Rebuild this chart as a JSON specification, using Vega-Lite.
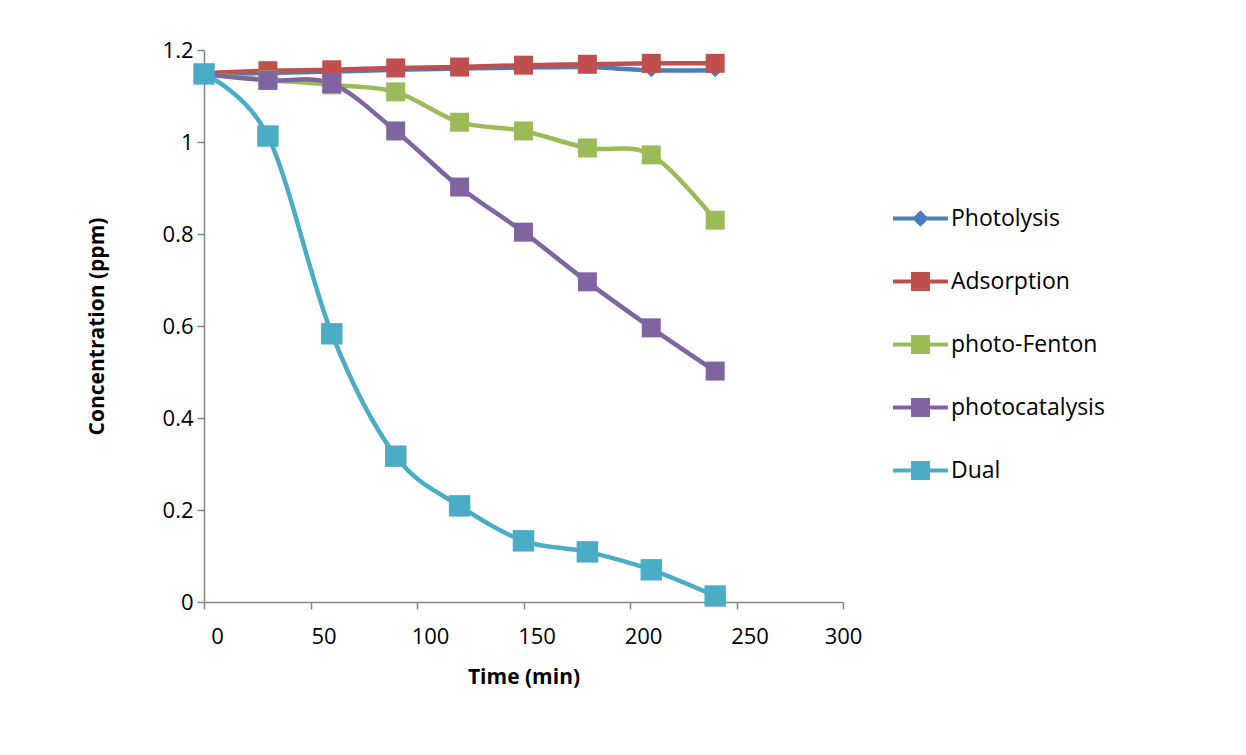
{
  "$schema": "https://vega.github.io/schema/vega-lite/v6.json",
  "autosize": {"type": "none"},
  "padding": {"left": 204, "top": 50, "right": 403, "bottom": 153},
  "width": 639,
  "height": 552,
  "background": "white",
  "config": {
    "view": {"stroke": null},
    "font": "Open Sans",
    "axis": {
      "grid": false,
      "domainColor": "#868686",
      "domainWidth": 1.5,
      "tickColor": "#868686",
      "tickWidth": 1.5,
      "tickSize": 7,
      "labelFont": "Open Sans",
      "labelFontSize": 22,
      "labelColor": "#000000",
      "titleFont": "Open Sans",
      "titleFontSize": 21,
      "titleFontWeight": "bold",
      "titleColor": "#000000"
    }
  },
  "data": {
    "values": [
      {"series": "Photolysis", "time": 0, "conc": 1.148},
      {"series": "Photolysis", "time": 30, "conc": 1.150},
      {"series": "Photolysis", "time": 60, "conc": 1.153},
      {"series": "Photolysis", "time": 90, "conc": 1.157},
      {"series": "Photolysis", "time": 120, "conc": 1.160},
      {"series": "Photolysis", "time": 150, "conc": 1.162},
      {"series": "Photolysis", "time": 180, "conc": 1.163},
      {"series": "Photolysis", "time": 210, "conc": 1.156},
      {"series": "Photolysis", "time": 240, "conc": 1.156},
      {"series": "Adsorption", "time": 0, "conc": 1.149},
      {"series": "Adsorption", "time": 30, "conc": 1.155},
      {"series": "Adsorption", "time": 60, "conc": 1.157},
      {"series": "Adsorption", "time": 90, "conc": 1.161},
      {"series": "Adsorption", "time": 120, "conc": 1.163},
      {"series": "Adsorption", "time": 150, "conc": 1.167},
      {"series": "Adsorption", "time": 180, "conc": 1.169},
      {"series": "Adsorption", "time": 210, "conc": 1.171},
      {"series": "Adsorption", "time": 240, "conc": 1.171},
      {"series": "photo-Fenton", "time": 0, "conc": 1.148},
      {"series": "photo-Fenton", "time": 30, "conc": 1.135},
      {"series": "photo-Fenton", "time": 60, "conc": 1.124},
      {"series": "photo-Fenton", "time": 90, "conc": 1.109},
      {"series": "photo-Fenton", "time": 120, "conc": 1.043},
      {"series": "photo-Fenton", "time": 150, "conc": 1.024},
      {"series": "photo-Fenton", "time": 180, "conc": 0.987},
      {"series": "photo-Fenton", "time": 210, "conc": 0.972},
      {"series": "photo-Fenton", "time": 240, "conc": 0.830},
      {"series": "photocatalysis", "time": 0, "conc": 1.148},
      {"series": "photocatalysis", "time": 30, "conc": 1.134},
      {"series": "photocatalysis", "time": 60, "conc": 1.127},
      {"series": "photocatalysis", "time": 90, "conc": 1.024},
      {"series": "photocatalysis", "time": 120, "conc": 0.902},
      {"series": "photocatalysis", "time": 150, "conc": 0.804},
      {"series": "photocatalysis", "time": 180, "conc": 0.696},
      {"series": "photocatalysis", "time": 210, "conc": 0.596},
      {"series": "photocatalysis", "time": 240, "conc": 0.502},
      {"series": "Dual", "time": 0, "conc": 1.148},
      {"series": "Dual", "time": 30, "conc": 1.013},
      {"series": "Dual", "time": 60, "conc": 0.583},
      {"series": "Dual", "time": 90, "conc": 0.317},
      {"series": "Dual", "time": 120, "conc": 0.209},
      {"series": "Dual", "time": 150, "conc": 0.133},
      {"series": "Dual", "time": 180, "conc": 0.109},
      {"series": "Dual", "time": 210, "conc": 0.070},
      {"series": "Dual", "time": 240, "conc": 0.013}
    ]
  },
  "encoding": {
    "x": {
      "field": "time",
      "type": "quantitative",
      "scale": {"domain": [0, 300], "nice": false, "zero": false},
      "axis": {
        "title": "Time (min)",
        "values": [0, 50, 100, 150, 200, 250, 300],
        "labelPadding": 17,
        "labelFlush": false,
        "labelOffset": {"condition": {"test": "datum.value === 300", "value": 0}, "value": 13},
        "titlePadding": 19
      }
    },
    "y": {
      "field": "conc",
      "type": "quantitative",
      "scale": {"domain": [0, 1.2], "nice": false},
      "axis": {
        "title": "Concentration (ppm)",
        "values": [0, 0.2, 0.4, 0.6, 0.8, 1, 1.2],
        "format": "~g",
        "labelPadding": 4,
        "titlePadding": 55
      }
    },
    "color": {
      "field": "series",
      "type": "nominal",
      "scale": {
        "domain": ["Photolysis", "Adsorption", "photo-Fenton", "photocatalysis", "Dual"],
        "range": ["#4A7EBB", "#C0504D", "#9BBB59", "#8064A2", "#4BACC6"]
      },
      "legend": {
        "title": null,
        "orient": "none",
        "legendX": 689,
        "legendY": 141,
        "symbolSize": 3025,
        "symbolType": "M-1,-0.075H1V0.075H-1Z M-0.345,-0.345H0.345V0.345H-0.345Z",
        "symbolStrokeWidth": 0,
        "symbolOpacity": 1,
        "labelFont": "Open Sans",
        "labelFontSize": 23,
        "labelColor": "#000000",
        "labelOffset": 3,
        "rowPadding": 23,
        "encode": {
          "symbols": {
            "update": {
              "shape": {"signal": "datum.value === 'Photolysis' ? 'M-1,-0.075H1V0.075H-1Z M0,-0.3L0.3,0L0,0.3L-0.3,0Z' : 'M-1,-0.075H1V0.075H-1Z M-0.345,-0.345H0.345V0.345H-0.345Z'"},
              "size": {"value": 3025},
              "fill": {"scale": "color", "field": "value"},
              "strokeWidth": {"value": 0},
              "opacity": {"value": 1}
            }
          }
        }
      }
    }
  },
  "layer": [
    {
      "mark": {"type": "line", "interpolate": "cardinal", "strokeWidth": 4.5},
      "encoding": {"detail": {"field": "series"}}
    },
    {
      "mark": {"type": "point", "filled": true, "opacity": 1},
      "encoding": {
        "shape": {"condition": {"test": "datum.series === 'Photolysis'", "value": "diamond"}, "value": "square"},
        "size": {"condition": [
          {"test": "datum.series === 'Photolysis'", "value": 196},
          {"test": "datum.series === 'Dual'", "value": 460}
        ], "value": 361}
      }
    }
  ]
}
